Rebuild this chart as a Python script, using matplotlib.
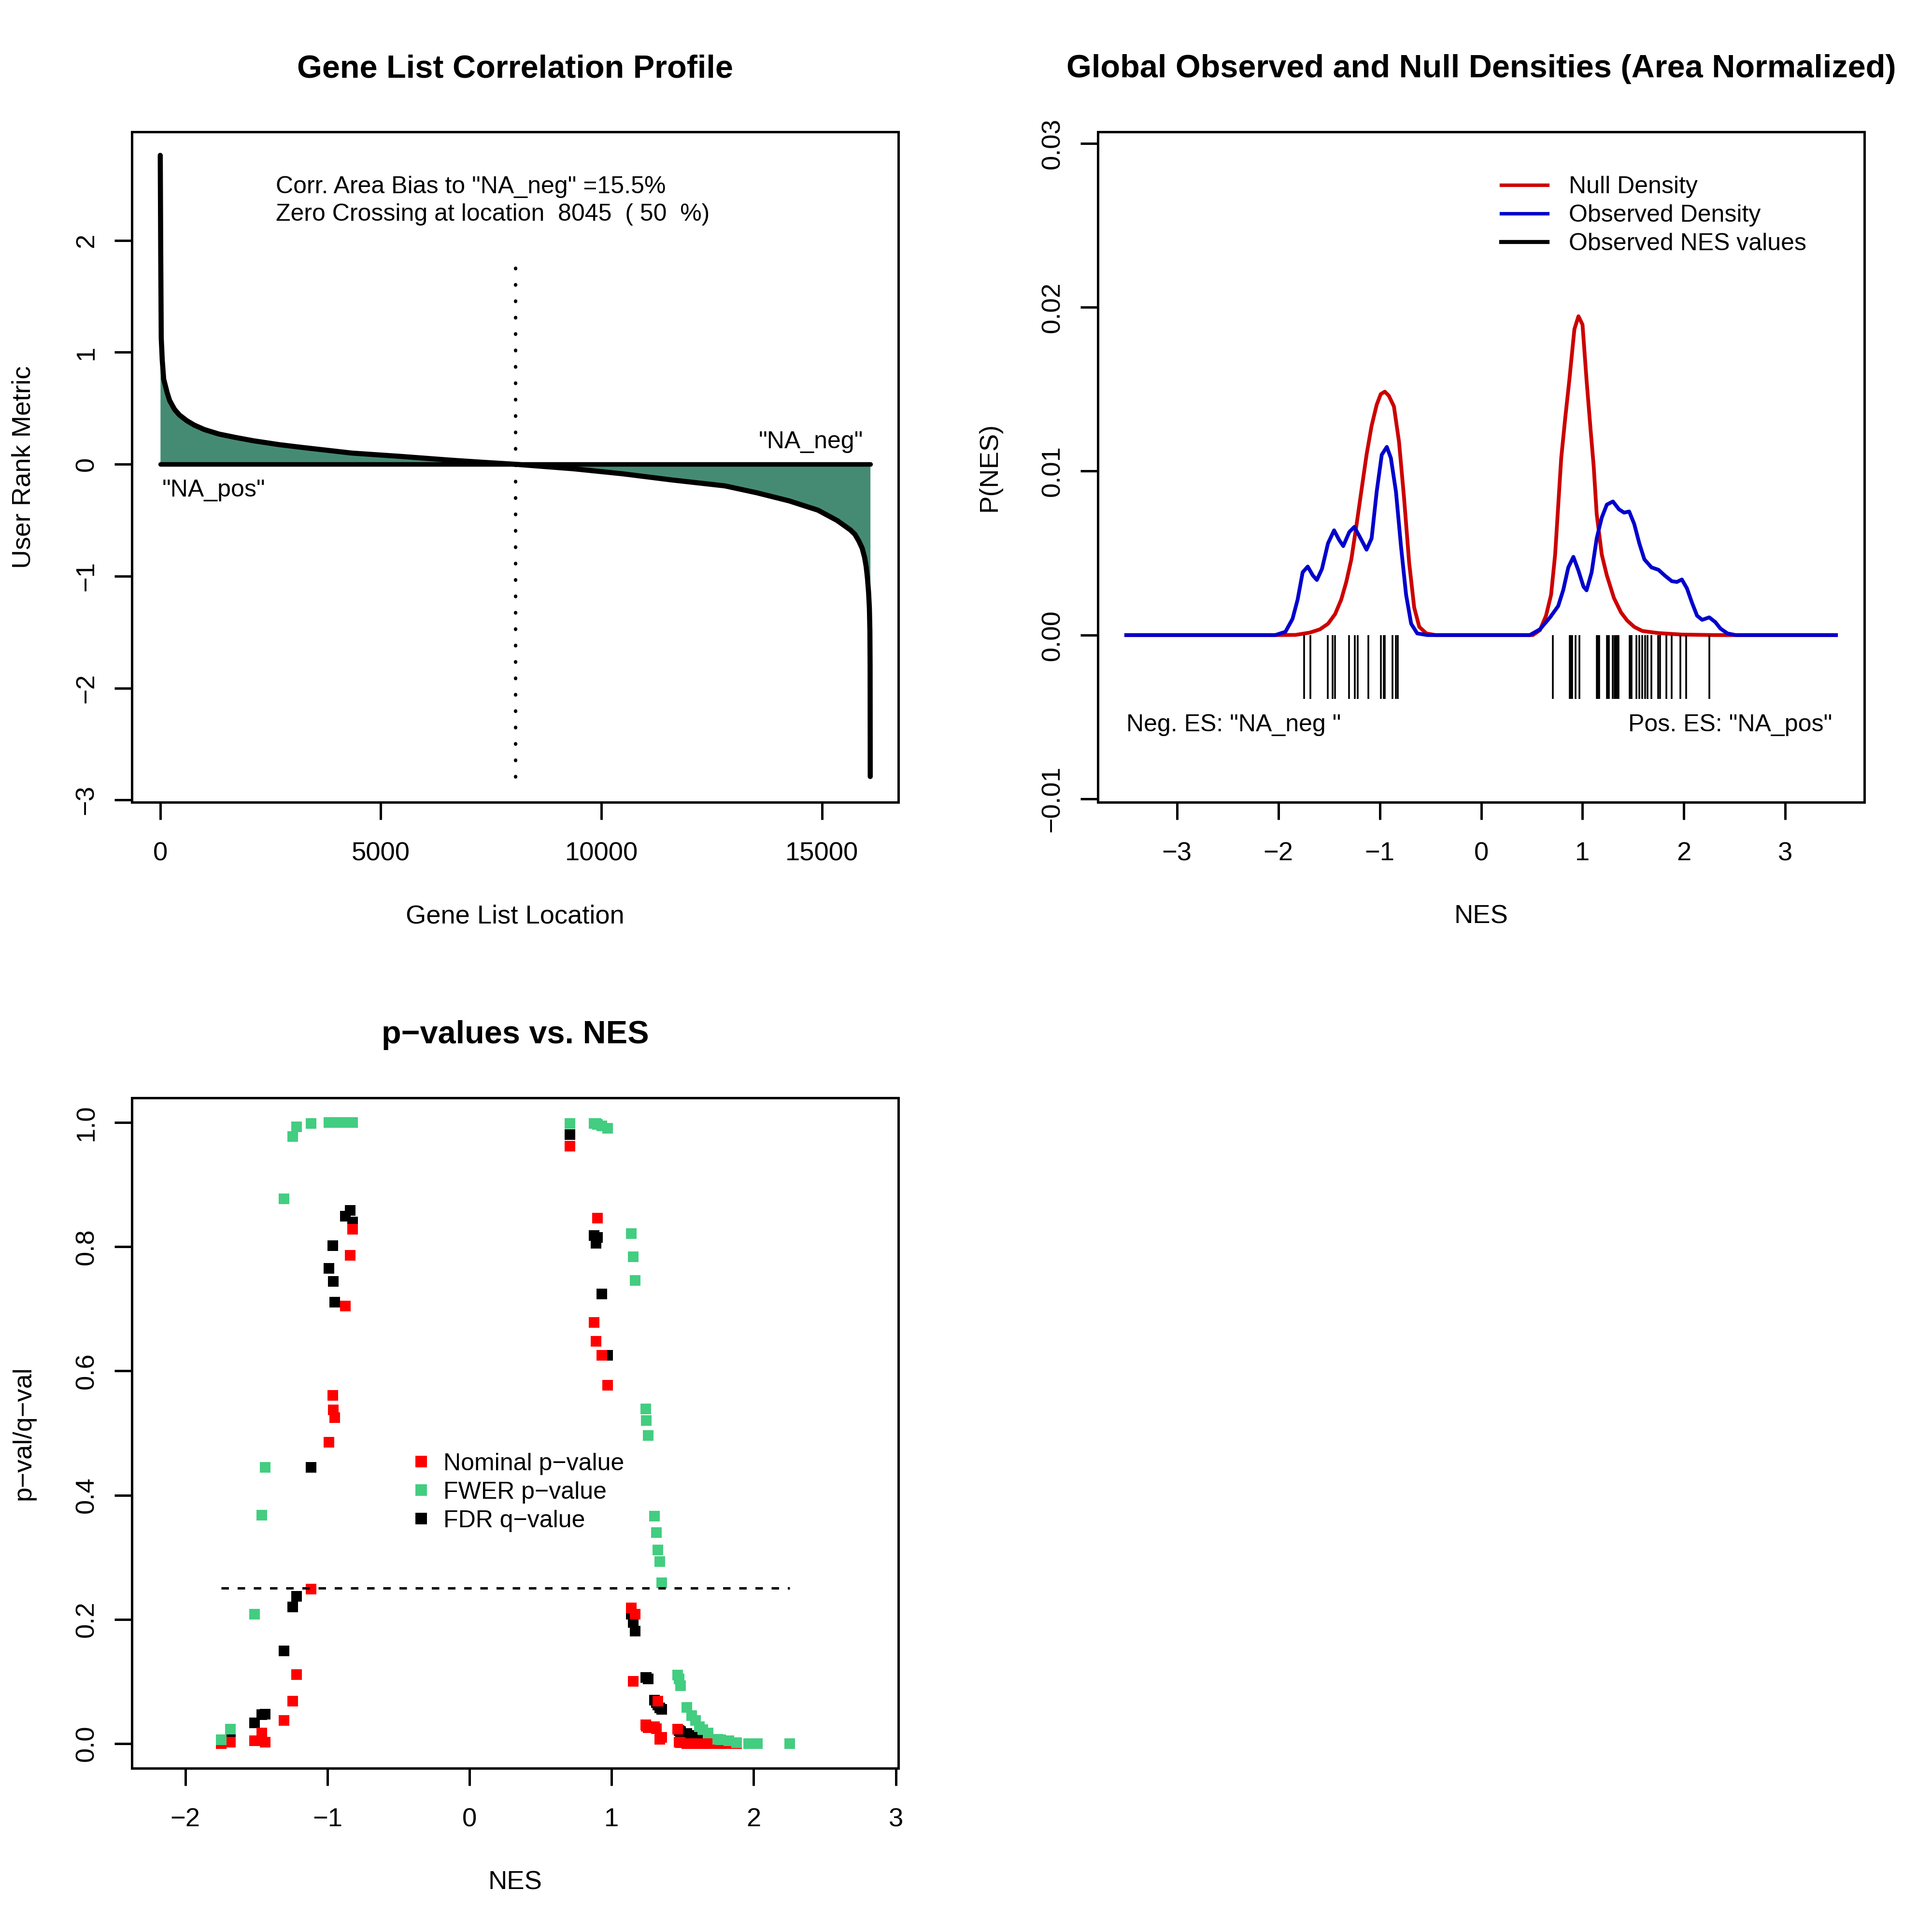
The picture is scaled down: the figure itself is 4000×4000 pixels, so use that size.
import matplotlib
matplotlib.use("Agg")
import matplotlib.pyplot as plt
from matplotlib.lines import Line2D

plt.rcParams['font.family'] = ['Liberation Sans', 'DejaVu Sans']
plt.rcParams['axes.linewidth'] = 0.9

FS = 9.8      # axis text
FS_TXT = 9.0  # annotations and legends

# --- ranked gene list metric ---
gene_loc = [0, 11, 22, 45, 78, 156, 212, 324, 435, 600, 770, 1000, 1330,
            1700, 2110, 2700, 3225, 4340, 5460, 6570, 7300, 8045, 9360,
            10480, 11595, 12798, 13527, 14255, 14910, 15348, 15640, 15749,
            15840, 15913, 15968, 16004, 16033, 16058, 16077, 16088, 16093,
            16095, 16096]
rank_metric = [2.76, 1.83, 1.13, 0.93, 0.76, 0.64, 0.57, 0.49, 0.44, 0.39,
               0.35, 0.31, 0.27, 0.24, 0.21, 0.175, 0.15, 0.10, 0.07, 0.037,
               0.018, 0.0, -0.04, -0.085, -0.14, -0.193, -0.255, -0.327,
               -0.41, -0.503, -0.585, -0.626, -0.688, -0.750, -0.832, -0.915,
               -1.018, -1.142, -1.286, -1.492, -1.80, -2.41, -2.79]
n_genes = 16096
zero_cross = 8045
zc_top, zc_bottom = 1.81, -2.79

# --- global null / observed densities ---
null_x = [-3.5, -2.03, -1.83, -1.69, -1.59, -1.51, -1.44, -1.38, -1.33, -1.28,
          -1.23, -1.18, -1.13, -1.08, -1.03, -0.99, -0.95, -0.91, -0.86,
          -0.81, -0.76, -0.71, -0.66, -0.61, -0.54, -0.45,
          0.51, 0.58, 0.64, 0.69, 0.73, 0.76, 0.79, 0.83, 0.87, 0.92, 0.96,
          1.00, 1.04, 1.08, 1.11, 1.14, 1.19, 1.24, 1.31, 1.38, 1.44, 1.51,
          1.59, 1.75, 1.98, 2.31, 3.5]
null_dens = [0.0, 0.0, 0.00001, 0.00015, 0.00035, 0.00069, 0.00128, 0.00216,
             0.00324, 0.00462, 0.00668, 0.00884, 0.0110, 0.01277, 0.01405,
             0.0147, 0.01485, 0.0146, 0.01395, 0.0118, 0.00836, 0.00443,
             0.00168, 0.0005, 0.0001, 0.0,
             0.0, 0.0003, 0.00118, 0.00246, 0.00491, 0.00786, 0.0108,
             0.01327, 0.01555, 0.01866, 0.01945, 0.01894, 0.01555, 0.0125,
             0.01032, 0.00737, 0.00491, 0.00364, 0.00226, 0.00138, 0.00089,
             0.0005, 0.00025, 0.00012, 0.00003, 0.0, 0.0]
obs_x = [-3.5, -2.03, -1.93, -1.86, -1.81, -1.76, -1.71, -1.66, -1.62, -1.57,
         -1.51, -1.45, -1.40, -1.36, -1.30, -1.25, -1.18, -1.13, -1.08, -1.03,
         -0.98, -0.93, -0.89, -0.84, -0.79, -0.74, -0.69, -0.63, -0.53,
         0.48, 0.58, 0.68, 0.76, 0.81, 0.86, 0.91, 0.96, 1.01, 1.04, 1.09,
         1.14, 1.19, 1.24, 1.30, 1.36, 1.41, 1.46, 1.51, 1.56, 1.61, 1.68,
         1.75, 1.81, 1.88, 1.93, 1.98, 2.03, 2.08, 2.13, 2.18, 2.25, 2.31,
         2.36, 2.43, 2.51, 3.5]
obs_dens = [0.0, 0.0, 0.0002, 0.00099, 0.00216, 0.00383, 0.00418, 0.00364,
            0.00336, 0.00403, 0.0056, 0.00639, 0.0058, 0.00543, 0.00629,
            0.0066, 0.0058, 0.00521, 0.0059, 0.00875, 0.0110, 0.01148,
            0.0108, 0.00875, 0.0054, 0.00246, 0.00069, 0.0001, 0.0,
            0.0, 0.00035, 0.00108, 0.00177, 0.00275, 0.00413, 0.00477,
            0.00393, 0.00295, 0.00273, 0.00383, 0.0059, 0.00717, 0.00796,
            0.00815, 0.00767, 0.00747, 0.00754, 0.00678, 0.0056, 0.00462,
            0.00413, 0.00398, 0.00364, 0.00329, 0.00324, 0.00339, 0.00285,
            0.00197, 0.00118, 0.00093, 0.00108, 0.00079, 0.0004, 0.0001,
            0.0, 0.0]
rug_depth = -0.0039

# --- gene sets: NES and significance ---
nes = [-1.747, -1.684, -1.514, -1.463, -1.439, -1.305, -1.244, -1.217, -1.114,
       -0.990, -0.962, -0.957, -0.950, -0.873, -0.840, -0.822,
       0.708, 0.876, 0.889, 0.900, 0.932, 0.971, 1.140, 1.152, 1.167, 1.239,
       1.245, 1.258, 1.300, 1.315, 1.326, 1.339, 1.353, 1.466, 1.475, 1.485,
       1.530, 1.562, 1.590, 1.618, 1.641, 1.680, 1.747, 1.767, 1.826, 1.878,
       1.964, 2.024, 2.253]
nom_p = [0.000, 0.002, 0.004, 0.017, 0.002, 0.037, 0.068, 0.111, 0.249, 0.485,
         0.561, 0.537, 0.525, 0.705, 0.786, 0.828,
         0.962, 0.678, 0.648, 0.846, 0.625, 0.577, 0.218, 0.100, 0.208, 0.030,
         0.028, 0.025, 0.027, 0.024, 0.068, 0.007, 0.010, 0.023, 0.002, 0.001,
         0, 0, 0, 0, 0, 0, 0, 0, 0, 0, 0, 0, 0]
fwer_p = [0.006, 0.023, 0.208, 0.368, 0.445, 0.877, 0.978, 0.993, 0.999, 1.0,
          1.0, 1.0, 1.0, 1.0, 1.0, 1.0,
          0.999, 0.999, 0.999, 0.997, 0.995, 0.991, 0.821, 0.784, 0.746, 0.539,
          0.520, 0.496, 0.366, 0.340, 0.312, 0.293, 0.259, 0.110, 0.104, 0.093,
          0.058, 0.045, 0.037, 0.027, 0.022, 0.017, 0.007, 0.006, 0.004,
          0.0015, 0, 0, 0]
fdr_q = [0.004, 0.010, 0.033, 0.046, 0.047, 0.149, 0.220, 0.237, 0.445, 0.765,
         0.802, 0.744, 0.711, 0.849, 0.859, 0.840,
         0.981, 0.818, 0.806, 0.815, 0.724, 0.625, 0.208, 0.195, 0.181, 0.106,
         0.106, 0.104, 0.070, 0.066, 0.062, 0.057, 0.055, 0.023, 0.021, 0.019,
         0.016, 0.013, 0.011, 0.008, 0.007, 0.005, 0.003, 0.002, 0.001, 0.001,
         0, 0, 0]
fdr_cut = 0.25

MINUS = '\u2212'


def style_axes(ax):
    ax.tick_params(direction='out', length=6.4, width=0.9, labelsize=FS)
    ax.tick_params(axis='x', pad=8.2)
    ax.tick_params(axis='y', pad=6, labelrotation=90)
    for t in ax.get_yticklabels():
        t.set_va('center')
    ax.xaxis.set_label_coords(0.5, -0.1527)
    ax.yaxis.set_label_coords(-0.126, 0.5)


fig = plt.figure(figsize=(10, 10), dpi=400)

# ---------------- panel 1: gene list correlation profile ----------------
ax1 = fig.add_axes([0.06825, 0.58475, 0.39675, 0.347])
ax1.fill_between(gene_loc[:-1], rank_metric[:-1], 0, color='#458B74', lw=0)
ax1.plot(gene_loc, rank_metric, color='black', lw=1.9, solid_capstyle='round',
         solid_joinstyle='round')
ax1.hlines(0, 0, n_genes, color='black', lw=1.7, capstyle='round')
ax1.plot([zero_cross, zero_cross], [zc_bottom, zc_top], color='black', lw=1.3,
         ls=(0, (0.1, 4.6)), dash_capstyle='round')
ax1.text(2620, 2.48, 'Corr. Area Bias to "NA_neg" =15.5%', fontsize=FS_TXT,
         va='center')
ax1.text(2620, 2.23, 'Zero Crossing at location  8045  ( 50  %)',
         fontsize=FS_TXT, va='center')
ax1.text(15930, 0.20, '"NA_neg"', fontsize=FS_TXT, ha='right', va='center')
ax1.text(45, -0.23, '"NA_pos"', fontsize=FS_TXT, ha='left', va='center')
ax1.set_xlim(-644, 16734)
ax1.set_ylim(-3.02, 2.97)
ax1.set_xticks([0, 5000, 10000, 15000])
ax1.set_yticks([-3, -2, -1, 0, 1, 2])
ax1.set_title('Gene List Correlation Profile', fontsize=12, fontweight='bold',
              pad=20.3)
ax1.set_xlabel('Gene List Location', fontsize=FS)
ax1.set_ylabel('User Rank Metric', fontsize=FS)
style_axes(ax1)

# ---------------- panel 2: observed and null densities ----------------
ax2 = fig.add_axes([0.56825, 0.58475, 0.39675, 0.347])
ax2.plot(null_x, null_dens, color='#CC0000', lw=1.4, solid_joinstyle='round')
ax2.plot(obs_x, obs_dens, color='#0000CC', lw=1.4, solid_joinstyle='round')
ax2.vlines(nes, rug_depth, 0, color='black', lw=0.65)
ax2.text(-3.5, -0.0055, 'Neg. ES: "NA_neg "', fontsize=FS_TXT, ha='left',
         va='center')
ax2.text(3.46, -0.0055, 'Pos. ES: "NA_pos"', fontsize=FS_TXT, ha='right',
         va='center')
ax2.set_xlim(-3.78, 3.78)
ax2.set_ylim(-0.0102, 0.0307)
ax2.set_xticks([-3, -2, -1, 0, 1, 2, 3])
dens_ticks = [-0.01, 0.0, 0.01, 0.02, 0.03]
ax2.set_yticks(dens_ticks)
ax2.set_yticklabels([f'{v:.2f}'.replace('-', MINUS) for v in dens_ticks])
ax2.set_title('Global Observed and Null Densities (Area Normalized)',
              fontsize=12, fontweight='bold', pad=20.3)
ax2.set_xlabel('NES', fontsize=FS)
ax2.set_ylabel('P(NES)', fontsize=FS)
leg_handles = [Line2D([], [], color='#CC0000', lw=1.3),
               Line2D([], [], color='#0000CC', lw=1.3),
               Line2D([], [], color='black', lw=1.5)]
ax2.legend(leg_handles, ['Null Density', 'Observed Density',
                         'Observed NES values'],
           loc='upper left', bbox_to_anchor=(0.526, 0.9342), frameon=False,
           fontsize=FS_TXT, borderpad=0, borderaxespad=0, handlelength=1.92,
           handletextpad=0.89, labelspacing=0.26)
style_axes(ax2)

# ---------------- panel 3: p-values vs NES ----------------
ax3 = fig.add_axes([0.06825, 0.08475, 0.39675, 0.347])
ax3.plot(nes, fdr_q, ls='none', marker='s', ms=3.8, mew=0, color='black')
ax3.plot(nes, nom_p, ls='none', marker='s', ms=3.8, mew=0, color='#FF0000')
ax3.plot(nes, fwer_p, ls='none', marker='s', ms=3.8, mew=0, color='#43CD80')
ax3.plot([min(nes), max(nes)], [fdr_cut, fdr_cut], color='black', lw=0.9,
         ls=(0, (3.1, 3.6)))
ax3.set_xlim(-2.376, 3.018)
ax3.set_ylim(-0.04, 1.04)
ax3.set_xticks([-2, -1, 0, 1, 2, 3])
p_ticks = [0.0, 0.2, 0.4, 0.6, 0.8, 1.0]
ax3.set_yticks(p_ticks)
ax3.set_yticklabels([f'{v:.1f}' for v in p_ticks])
ax3.set_title(f'p{MINUS}values vs. NES', fontsize=12, fontweight='bold',
              pad=20.3)
ax3.set_xlabel('NES', fontsize=FS)
ax3.set_ylabel(f'p{MINUS}val/q{MINUS}val', fontsize=FS)
sq = dict(ls='none', marker='s', ms=4.3, mew=0)
ax3.legend([Line2D([], [], color='#FF0000', **sq),
            Line2D([], [], color='#43CD80', **sq),
            Line2D([], [], color='black', **sq)],
           [f'Nominal p{MINUS}value', f'FWER p{MINUS}value',
            f'FDR q{MINUS}value'],
           loc='upper left', bbox_to_anchor=(0.3614, 0.4707), frameon=False,
           fontsize=FS_TXT, borderpad=0, borderaxespad=0, handlelength=1.0,
           handletextpad=0.43, labelspacing=0.26)
style_axes(ax3)

fig.savefig('out.png', dpi=400)
